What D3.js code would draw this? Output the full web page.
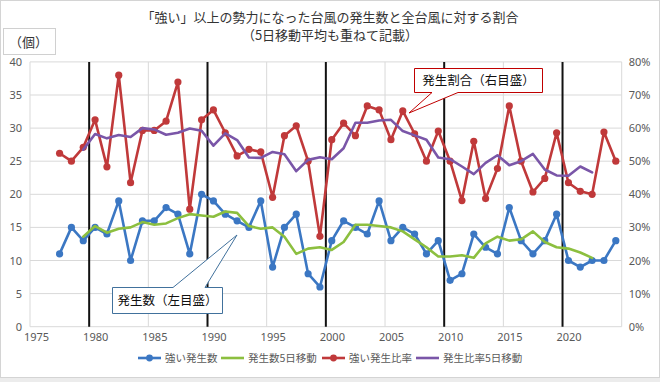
<!DOCTYPE html>
<html><head><meta charset="utf-8">
<script src="https://cdn.jsdelivr.net/npm/d3@7"></script>
<style>
html,body{margin:0;padding:0;background:#fff;}
svg{display:block;font-family:"Noto Sans CJK JP","Noto Sans",sans-serif;}
</style></head>
<body><svg id="c" width="660" height="382"></svg>
<script>
// ---- data ----
const years = [1977,1978,1979,1980,1981,1982,1983,1984,1985,1986,1987,1988,1989,1990,1991,1992,1993,1994,1995,1996,1997,1998,1999,2000,2001,2002,2003,2004,2005,2006,2007,2008,2009,2010,2011,2012,2013,2014,2015,2016,2017,2018,2019,2020,2021,2022,2023,2024];
const strongCount = [11,15,13,15,14,19,10,16,16,18,17,11,20,19,17,16,15,19,9,15,17,8,6,13,16,15,14,19,13,15,14,11,13,7,8,14,12,11,18,13,11,13,17,10,9,10,10,13];
const strongRatio = [52.4,50.0,54.2,62.5,48.3,76.0,43.5,59.3,59.3,62.1,73.9,35.5,62.5,65.5,58.6,51.6,53.6,52.8,39.1,57.7,60.7,50.0,27.3,56.5,61.5,57.7,66.7,65.5,56.5,65.2,58.3,50.0,59.1,50.0,38.1,56.0,38.7,47.8,66.7,50.0,40.7,44.8,58.6,43.5,40.9,40.0,58.8,50.0];
const maYears = [1979,1980,1981,1982,1983,1984,1985,1986,1987,1988,1989,1990,1991,1992,1993,1994,1995,1996,1997,1998,1999,2000,2001,2002,2003,2004,2005,2006,2007,2008,2009,2010,2011,2012,2013,2014,2015,2016,2017,2018,2019,2020,2021,2022];
const countMA5 = [13.6,15.2,14.2,14.8,15.0,15.8,15.4,15.6,16.4,17.0,16.8,16.6,17.4,17.2,15.2,14.8,15.0,13.6,11.0,11.8,12.0,11.6,12.8,15.4,15.4,15.2,15.0,14.4,13.2,12.0,10.6,10.6,10.8,10.4,12.6,13.6,13.0,13.2,14.4,12.8,12.0,11.8,11.2,10.4];
const ratioMA5 = [53.5,58.2,56.9,57.9,57.3,60.0,59.6,58.0,58.6,59.9,59.2,54.7,58.4,56.4,51.1,51.0,52.8,52.1,47.0,50.4,51.2,50.6,53.9,61.6,61.6,62.3,62.5,59.1,57.8,56.5,51.1,50.6,48.4,46.1,49.5,51.8,48.8,50.0,52.2,47.5,45.7,45.6,48.4,46.6];
const leftTicks = [0,5,10,15,20,25,30,35,40];
const rightTicks = [0,10,20,30,40,50,60,70,80];
const xTicks = [1975,1980,1985,1990,1995,2000,2005,2010,2015,2020];
const decadeLines = [1980,1990,2000,2010,2020];
const gridYears = [1975,1985,1995,2005,2015,2025];
const seriesNames = ["強い発生数","発生数5日移動","強い発生比率","発生比率5日移動"];
const titleLines = ["「強い」以上の勢力になった台風の発生数と全台風に対する割合","（5日移動平均も重ねて記載）"];

// ---- styles ----
const C = {blue:"#3b77c3", green:"#8cbf3f", red:"#c0393a", purple:"#7a56a8", grid:"#d9d9d9", text:"#595959"};

const svg = d3.select("#c");
const L = 30, R = 621.7, T = 61.9, B = 326.7;
const x = d3.scaleLinear().domain([1975,2025]).range([L,R]);
const yL = d3.scaleLinear().domain([0,40]).range([B,T]);
const yR = d3.scaleLinear().domain([0,80]).range([B,T]);

// outer frame
svg.append("rect").attr("x",0).attr("y",378).attr("width",660).attr("height",4).attr("fill","#ececec");
svg.append("rect").attr("x",0.5).attr("y",0.5).attr("width",659).attr("height",377).attr("fill","none").attr("stroke","#d4d4d4");

// title
svg.selectAll("text.title").data(titleLines).enter().append("text")
  .attr("x",330).attr("y",(d,i)=>i?40:22).attr("text-anchor","middle")
  .attr("font-size",13).attr("fill","#333").text(d=>d);

// unit box
svg.append("rect").attr("x",3.5).attr("y",28.5).attr("width",52).attr("height",26).attr("fill","#fff").attr("stroke","#d0d0d0");
svg.append("text").attr("x",9).attr("y",47).attr("font-size",13).attr("fill","#333").text("（個）");

// gridlines
const g = svg.append("g");
g.selectAll("line.h").data(leftTicks).enter().append("line")
  .attr("x1",L).attr("x2",R).attr("y1",d=>yL(d)).attr("y2",d=>yL(d))
  .attr("stroke",C.grid).attr("stroke-width",1);
g.selectAll("line.v").data(gridYears).enter().append("line")
  .attr("x1",d=>x(d)).attr("x2",d=>x(d)).attr("y1",T).attr("y2",B)
  .attr("stroke",C.grid).attr("stroke-width",1);
g.selectAll("line.dec").data(decadeLines).enter().append("line")
  .attr("x1",d=>x(d)).attr("x2",d=>x(d)).attr("y1",T).attr("y2",B)
  .attr("stroke","#111").attr("stroke-width",2);

// axes (labels only)
function styleAxis(sel){
  sel.select(".domain").remove();
  sel.selectAll(".tick line").remove();
  sel.selectAll("text").attr("fill",C.text).attr("font-size",11).attr("font-family","'Noto Sans','Noto Sans CJK JP',sans-serif");
}
svg.append("g").attr("transform",`translate(${L-6},0)`)
  .call(d3.axisLeft(yL).tickValues(leftTicks).tickSize(0).tickPadding(2)).call(styleAxis);
svg.append("g").attr("transform",`translate(${R+5},0)`)
  .call(d3.axisRight(yR).tickValues(rightTicks).tickSize(0).tickPadding(2).tickFormat(d=>d+"%")).call(styleAxis);
svg.append("g").attr("transform",`translate(6,${B+3})`)
  .call(d3.axisBottom(x).tickValues(xTicks).tickSize(0).tickPadding(3).tickFormat(d3.format("d"))).call(styleAxis);

// series
const px = yr => x(yr+0.5);
function drawLine(xs, vs, yScale, color, markers){
  const data = xs.map((yr,i)=>[yr,vs[i]]);
  svg.append("path").datum(data)
    .attr("d", d3.line().x(d=>px(d[0])).y(d=>yScale(d[1])))
    .attr("fill","none").attr("stroke",color).attr("stroke-width",2.6)
    .attr("stroke-linejoin","round").attr("stroke-linecap","round");
  if(markers){
    svg.append("g").selectAll("circle").data(data).enter().append("circle")
      .attr("cx",d=>px(d[0])).attr("cy",d=>yScale(d[1])).attr("r",3.6).attr("fill",color);
  }
}
drawLine(years, strongCount, yL, C.blue, true);
drawLine(maYears, countMA5, yL, C.green, false);
drawLine(years, strongRatio, yR, C.red, true);
drawLine(maYears, ratioMA5, yR, C.purple, false);

// callouts
function callout(bx,by,bw,bh,base1,base2,tip,stroke,label,onTop){
  const ey = onTop ? by : by+bh;
  let pts;
  if(onTop){
    pts = [[bx,by],[base1,by],tip,[base2,by],[bx+bw,by],[bx+bw,by+bh],[bx,by+bh]];
  } else {
    pts = [[bx,by],[bx+bw,by],[bx+bw,by+bh],[base2,by+bh],tip,[base1,by+bh],[bx,by+bh]];
  }
  svg.append("path").attr("d","M"+pts.map(p=>p.join(",")).join("L")+"Z")
    .attr("fill","#fff").attr("stroke",stroke).attr("stroke-width",1);
  svg.append("text").attr("x",bx+bw/2).attr("y",by+bh/2+4.5).attr("text-anchor","middle")
    .attr("font-size",12.5).attr("fill","#111").text(label);
}
callout(414.5,68.5,128,24,432,458,[409,113],"#c00000","発生割合（右目盛）",false);
callout(112.5,287.5,110,26,173,205,[237,235],"#41719c","発生数（左目盛）",true);

// legend
const legendX = [138,221,322,416];
const lg = svg.append("g");
seriesNames.forEach((name,i)=>{
  const color=[C.blue,C.green,C.red,C.purple][i];
  const lx = legendX[i], ly = 358;
  lg.append("line").attr("x1",lx).attr("x2",lx+23).attr("y1",ly).attr("y2",ly).attr("stroke",color).attr("stroke-width",2.6);
  if(i===0||i===2) lg.append("circle").attr("cx",lx+11.5).attr("cy",ly).attr("r",3.4).attr("fill",color);
  lg.append("text").attr("x",lx+27).attr("y",ly+4).attr("font-size",10.5).attr("fill",C.text).text(name);
});
</script></body></html>
